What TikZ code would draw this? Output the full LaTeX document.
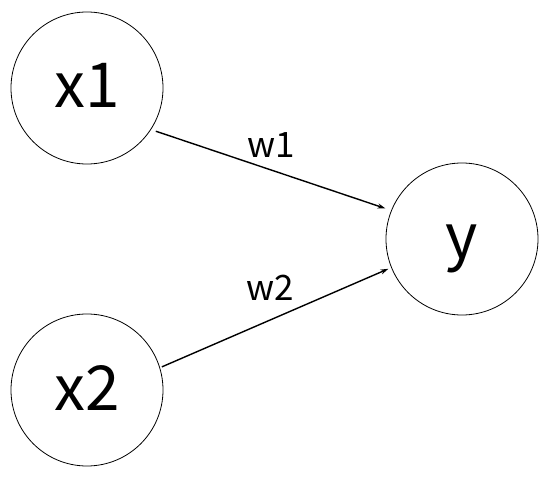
\documentclass[tikz,border=0pt]{standalone}
\usepackage{fontspec}
\setmainfont{Noto Sans CJK JP}
\usetikzlibrary{arrows.meta}
\tikzset{
  unit/.style={draw,circle,minimum size=152pt,inner sep=0pt,line width=0.8pt,
    text height=40pt,text depth=0pt,font=\fontsize{62}{62}\selectfont},
  weight/.style={font=\fontsize{35}{35}\selectfont,inner sep=0pt}
}
\begin{document}
\begin{tikzpicture}[x=1pt,y=-1pt]
      \useasboundingbox (0,0) rectangle (552,478);
      \draw
        (87,88) node[unit] (x1){x1}
        (87,390) node[unit] (x2){x2}
        (462,239) node[unit] (y){y}
        (271,145) node[weight] (w1){w1}
        (270,288) node[weight] (w2){w2};
      \begin{scope}[-{Stealth[length=8pt,width=5pt]},line width=1.4pt]
        \draw[shorten <=5pt,shorten >=6pt] (x1.-33.5) to (y.158);
        \draw[shorten <=2pt,shorten >=3pt] (x2.17) to (y.-158.6);
      \end{scope}
    \end{tikzpicture}
\end{document}
